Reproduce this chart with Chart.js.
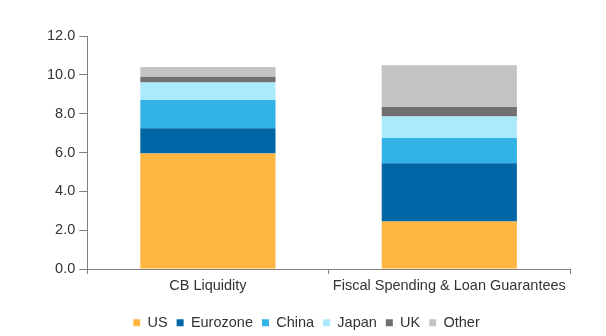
<!DOCTYPE html>
<html>
<head>
<meta charset="utf-8">
<script src="https://cdn.jsdelivr.net/npm/chart.js@4"></script>
<style>
    html, body { margin: 0; padding: 0; background: #fff; }
    #wrap { width: 606px; height: 336px; }
</style>
</head>
<body>
<div id="wrap"><canvas id="chart"></canvas></div>
<script>
// Categories and series (USD tn)
const categories = ['CB Liquidity', 'Fiscal Spending & Loan Guarantees'];
const us       = [5.95, 2.45];
const eurozone = [1.3, 3.0];
const china    = [1.45, 1.3];
const japan    = [0.9, 1.1];
const uk       = [0.3, 0.5];
const other    = [0.5, 2.15];

const seriesNames = ['US', 'Eurozone', 'China', 'Japan', 'UK', 'Other'];
const seriesData = [us, eurozone, china, japan, uk, other];
const seriesColors = ['#FDB642', '#0066A6', '#33B2E5', '#ABE9FC', '#707070', '#C4C4C6'];

Chart.defaults.font.family = '"Liberation Sans", Arial, sans-serif';
Chart.defaults.font.size = 14.5;
Chart.defaults.color = '#333';

const ctx = document.getElementById('chart').getContext('2d');
new Chart(ctx, {
    type: 'bar',
    data: {
        labels: categories,
        datasets: seriesNames.map((name, i) => ({
            label: name,
            data: seriesData[i],
            backgroundColor: seriesColors[i],
            borderWidth: 0,
            categoryPercentage: 1.0,
            barPercentage: 0.56
        }))
    },
    options: {
        responsive: true,
        maintainAspectRatio: false,
        animation: false,
        layout: {
            padding: { top: 36, right: 36, left: 43, bottom: -4 }
        },
        plugins: {
            legend: {
                position: 'bottom',
                labels: {
                    boxWidth: 7,
                    boxHeight: 7,
                    padding: 9
                }
            },
            tooltip: { enabled: false }
        },
        scales: {
            x: {
                stacked: true,
                border: { color: '#808080', width: 1 },
                grid: {
                    offset: true,
                    drawOnChartArea: false,
                    drawTicks: true,
                    tickLength: 5,
                    color: '#808080'
                },
                ticks: { padding: 3 },
                // extra room between category labels and the legend
                afterFit: scale => { scale.height += 9; }
            },
            y: {
                stacked: true,
                min: 0,
                max: 12,
                border: { color: '#808080', width: 1 },
                grid: {
                    drawOnChartArea: false,
                    drawTicks: true,
                    tickLength: 8,
                    color: '#808080'
                },
                ticks: {
                    stepSize: 2,
                    padding: 4,
                    callback: v => v.toFixed(1)
                }
            }
        }
    }
});
</script>
</body>
</html>
